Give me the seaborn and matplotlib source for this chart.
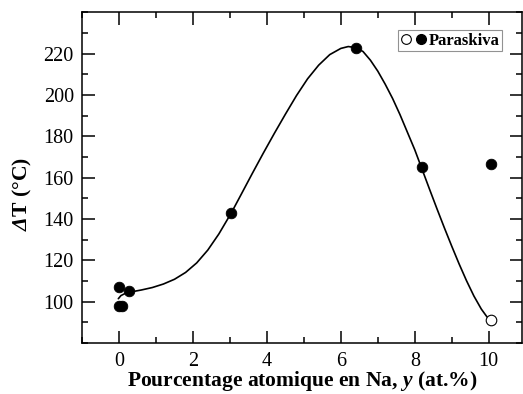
import numpy as np
import pandas as pd
import matplotlib
matplotlib.use("Agg")
import matplotlib.pyplot as plt
from matplotlib.legend_handler import HandlerTuple
from matplotlib.lines import Line2D
from matplotlib.ticker import MultipleLocator
import seaborn as sns

# measured points (Paraskiva)
x_filled = [0.0, 0.0, 0.07, 0.28, 3.04, 6.4, 8.19, 10.06]
y_filled = [107.2, 97.9, 97.9, 105.3, 143.1, 222.6, 165.2, 166.4]
x_open = [10.06]
y_open = [91.2]

# guide curve
curve_x = [-0.02, 0.05, 0.16, 0.3, 0.6, 0.9, 1.2, 1.5, 1.8, 2.1, 2.4, 2.7, 3.04,
           3.3, 3.6, 3.9, 4.2, 4.5, 4.8, 5.1, 5.4, 5.7, 6.0, 6.2, 6.4, 6.6,
           6.8, 7.0, 7.2, 7.4, 7.6, 7.8, 8.0, 8.17, 8.4, 8.6, 8.8, 9.0, 9.2,
           9.4, 9.6, 9.8, 9.95, 10.06]
curve_y = [101.5, 103.0, 104.0, 104.7, 105.7, 106.9, 108.6, 110.9, 114.2, 118.8, 125.0, 132.8, 143.1,
           151.8, 161.9, 171.8, 181.4, 190.7, 199.7, 207.8, 214.4, 219.5, 222.5, 223.4, 222.9, 221.0,
           216.8, 211.5, 205.2, 198.3, 190.5, 182.0, 173.5, 165.4, 154.4, 145.0, 135.8, 126.9, 118.3,
           110.2, 102.8, 96.5, 92.8, 91.2]

legend_label = "Paraskiva"
x_label = "Pourcentage atomique en Na, $y$ (at.%)"
y_label = "$\\Delta$T (°C)"

sns.set_theme(style="ticks")
plt.rcParams["font.family"] = ["Liberation Serif", "DejaVu Serif"]
plt.rcParams["mathtext.fontset"] = "custom"
plt.rcParams["mathtext.rm"] = "Liberation Serif:italic:bold"
plt.rcParams["mathtext.it"] = "Liberation Serif:italic:bold"
plt.rcParams["mathtext.bf"] = "Liberation Serif:bold"

fig = plt.figure(figsize=(5.23, 3.94), dpi=100)
ax = fig.add_axes([0.157, 0.129, 0.841, 0.840])

curve_df = pd.DataFrame({"x": curve_x, "y": curve_y})
sns.lineplot(data=curve_df, x="x", y="y", sort=False, estimator=None,
             color="black", linewidth=1.2, ax=ax, zorder=2)

filled_df = pd.DataFrame({"x": x_filled, "y": y_filled})
open_df = pd.DataFrame({"x": x_open, "y": y_open})
sns.scatterplot(data=filled_df, x="x", y="y", color="black", edgecolor="black",
                s=58, ax=ax, zorder=3)
sns.scatterplot(data=open_df, x="x", y="y", facecolor="white", edgecolor="black",
                linewidth=0.8, s=58, ax=ax, zorder=3)

ax.set_xlim(-1, 10.9)
ax.set_ylim(80, 240)
ax.xaxis.set_major_locator(MultipleLocator(2))
ax.xaxis.set_minor_locator(MultipleLocator(1))
ax.yaxis.set_major_locator(MultipleLocator(20))
ax.yaxis.set_minor_locator(MultipleLocator(10))
ax.set_yticks([100, 120, 140, 160, 180, 200, 220])
ax.tick_params(which="both", direction="in", top=True, right=True, width=1.1,
               labelsize=14.5, colors="black")
ax.tick_params(which="major", length=9)
ax.tick_params(which="minor", length=4.5)
ax.tick_params(axis="x", pad=6)
ax.tick_params(axis="y", pad=6)
for side in ax.spines.values():
    side.set_linewidth(1.1)
    side.set_color("black")

ax.set_xlabel(x_label, fontsize=15.5, fontweight="bold", color="black", labelpad=-1)
ax.set_ylabel(y_label, fontsize=15.7, fontweight="bold", color="black")
ax.yaxis.set_label_coords(-0.11, 0.45)

h_open = Line2D([], [], marker="o", linestyle="none", markerfacecolor="white",
                markeredgecolor="black", markeredgewidth=0.8, markersize=7)
h_fill = Line2D([], [], marker="o", linestyle="none", color="black", markersize=7)
leg = ax.legend([(h_open, h_fill)], [legend_label],
                handler_map={tuple: HandlerTuple(ndivide=None, pad=0.2)},
                loc="upper right", bbox_to_anchor=(0.955, 0.945),
                prop={"weight": "bold", "size": 12}, fancybox=False,
                handlelength=1.6, handletextpad=0.1, borderpad=0.15,
                borderaxespad=0, frameon=True)
leg.get_frame().set_edgecolor("#777777")
leg.get_frame().set_linewidth(0.8)
for t in leg.get_texts():
    t.set_color("black")

fig.savefig("out.png", dpi=100)
